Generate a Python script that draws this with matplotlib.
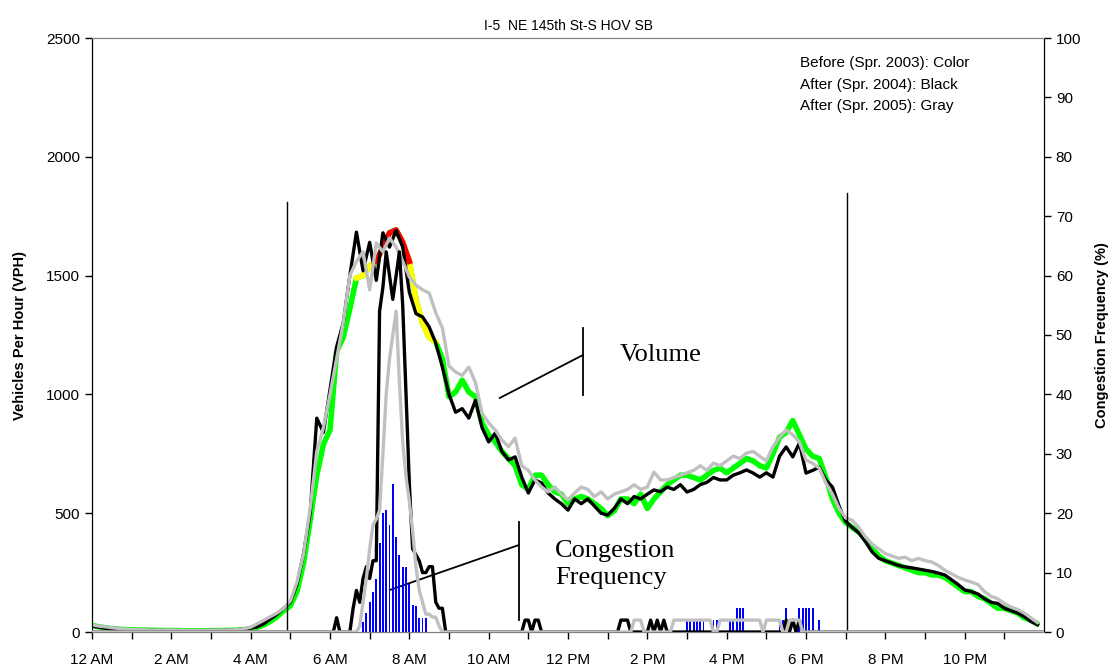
import numpy as np
import matplotlib
matplotlib.use("Agg")
import matplotlib.pyplot as plt

plt.rcParams['font.family'] = ['Liberation Sans', 'DejaVu Sans']

# ---------------- data ----------------
vol_time = np.arange(144) / 6.0  # 10-minute steps, hours

vol_2003 = [28, 22, 18, 14, 12, 10,
            9, 8, 8, 7, 7, 6,
            6, 6, 5, 5, 5, 5,
            5, 6, 6, 7, 8, 10,
            14, 20, 30, 45, 65, 90,
            110, 170, 290, 470, 660, 790,
            850, 1180, 1240, 1360, 1490, 1500,
            1540, 1560, 1620, 1680, 1692, 1640,
            1560, 1400, 1300, 1240, 1220, 1150,
            990, 1010, 1060, 1010, 990, 880,
            830, 800, 760, 730, 700, 620,
            600, 660, 660, 620, 590, 580,
            540, 560, 570, 560, 540, 520,
            490, 510, 560, 560, 540, 580,
            520, 560, 590, 620, 640, 660,
            660, 650, 640, 660, 680, 690,
            670, 690, 710, 730, 720, 700,
            690, 750, 820, 840, 890, 830,
            770, 740, 730, 650, 560, 500,
            460, 440, 420, 390, 350, 320,
            300, 290, 280, 270, 260, 250,
            250, 240, 240, 230, 210, 190,
            170, 170, 150, 140, 120, 100,
            100, 90, 80, 60, 50, 35]

# condition code of the 2003 line: g = green, y = yellow, r = red
status_2003 = ('g' * 41 + 'y' * 3 + 'r' * 4 + 'y' * 4 + 'g' * 92)

vol_2004 = [25, 20, 16, 13, 11, 10,
            8, 8, 7, 7, 6, 6,
            6, 5, 5, 5, 5, 6,
            6, 6, 7, 8, 10, 12,
            16, 22, 35, 55, 75, 100,
            125, 200, 330, 500, 900, 840,
            1020, 1200, 1300, 1500, 1683, 1520,
            1640, 1480, 1680, 1620, 1690, 1620,
            1430, 1340, 1326, 1284, 1216, 1115,
            1000, 925, 940, 900, 975, 860,
            800, 837, 760, 724, 737, 652,
            585, 640, 627, 585, 560, 540,
            513, 560, 540, 560, 530, 500,
            492, 520, 560, 540, 570, 560,
            580, 598, 590, 610, 600, 620,
            589, 600, 620, 630, 650, 640,
            640, 660, 670, 682, 669, 652,
            670, 652, 740, 779, 737, 795,
            669, 680, 694, 640, 610, 530,
            465, 440, 417, 380, 337, 310,
            300, 290, 280, 274, 270, 265,
            260, 255, 248, 240, 220, 200,
            177, 170, 160, 140, 125, 120,
            100, 90, 80, 65, 45, 30]

vol_2005 = [30, 25, 22, 18, 15, 12,
            10, 10, 9, 8, 8, 8,
            8, 7, 7, 7, 7, 7,
            7, 8, 8, 9, 10, 14,
            20, 35, 50, 65, 80, 100,
            130, 210, 330, 520, 760, 860,
            1000, 1150, 1300, 1500, 1560, 1600,
            1440, 1637, 1600, 1658, 1620, 1560,
            1494, 1460, 1440, 1427, 1343, 1280,
            1120, 1094, 1080, 1115, 1050, 921,
            880, 850, 808, 780, 816, 700,
            680, 640, 610, 590, 610, 580,
            556, 585, 610, 600, 570, 590,
            560, 580, 590, 600, 620, 600,
            610, 673, 640, 640, 650, 660,
            670, 680, 700, 680, 711, 700,
            720, 740, 730, 753, 760, 740,
            720, 780, 820, 850, 830, 800,
            724, 710, 690, 627, 580, 520,
            480, 470, 440, 400, 370, 350,
            330, 320, 310, 315, 300, 310,
            300, 295, 280, 260, 245, 230,
            219, 210, 200, 170, 150, 140,
            120, 105, 95, 80, 60, 40]

# congestion frequency 2003 (blue bars, 5-minute bins)
cf2003_time = [6.833, 6.917, 7.0, 7.083, 7.167, 7.25, 7.333, 7.417, 7.5, 7.583,
               7.667, 7.75, 7.833, 7.917, 8.0, 8.083, 8.167, 8.25, 8.333, 8.417,
               15.0, 15.083, 15.167, 15.25, 15.333, 15.417,
               15.667, 15.75,
               16.083, 16.167, 16.25, 16.333, 16.417,
               17.333, 17.417, 17.5,
               17.833, 17.917, 18.0, 18.083, 18.167, 18.333]
cf2003_pct = [1.7, 3.2, 5, 6.7, 9, 15, 20, 20.5, 18, 25,
              16, 13, 11, 11, 8, 4.5, 4.4, 2.3, 2.3, 2.3,
              2, 2, 2, 2, 2, 2,
              2, 2,
              2, 2, 4, 4, 4,
              2, 2, 4,
              4, 4, 4, 4, 4, 2]

# congestion frequency 2004 (black line)
cf2004_time = [0, 6.083, 6.167, 6.25, 6.5, 6.583, 6.667, 6.75, 6.833, 6.917, 7.0,
               7.083, 7.167, 7.25, 7.333, 7.417, 7.5, 7.583, 7.667, 7.75, 7.833,
               7.917, 8.0, 8.083, 8.167, 8.25, 8.333, 8.417, 8.5, 8.583, 8.667,
               8.75, 8.833, 8.917,
               10.833, 10.917, 11.0, 11.083, 11.167, 11.25, 11.333,
               13.25, 13.333, 13.5, 13.583,
               14.0, 14.083, 14.167, 14.25, 14.333, 14.417, 14.5,
               17.417, 17.5, 17.583, 17.667, 17.75, 17.833, 17.917, 24]
cf2004_pct = [0, 0, 2.4, 0, 0, 4, 7, 5, 9, 11, 9,
              12, 12, 54, 58, 64, 60, 56, 60, 64, 55,
              40, 25, 14, 13, 12, 10, 10, 11, 11, 5,
              4, 4, 0,
              0, 2, 2, 0, 2, 2, 0,
              0, 2, 2, 0,
              0, 2, 0, 2, 0, 2, 0,
              0, 2, 0, 2, 0, 2, 0, 0]

# congestion frequency 2005 (gray line)
cf2005_time = [0, 6.667, 6.75, 6.833, 6.917, 7.0, 7.083, 7.167, 7.25, 7.333,
               7.417, 7.5, 7.583, 7.667, 7.75, 7.833, 7.917, 8.0, 8.083, 8.167,
               8.25, 8.333, 8.417, 8.5, 8.583, 8.667, 8.75, 8.833,
               13.583, 13.667, 13.833, 13.917,
               14.583, 14.667, 15.583, 15.667,
               15.75, 15.833, 16.833, 16.917, 17.0, 17.333, 17.417,
               17.5, 17.583, 17.833, 17.917, 24]
cf2005_pct = [0, 0, 1, 5, 9, 14, 18, 19, 20.5, 30,
              40, 46, 50, 54, 42, 32, 26, 22, 17, 11,
              7, 5, 3, 3, 2.5, 2.5, 1, 0,
              0, 2, 2, 0,
              0, 2, 2, 0,
              0, 2, 2, 0, 2, 2, 0,
              0, 2, 2, 0, 0]

x_tick_hours = list(range(0, 24))
x_tick_labels = ['12 AM', '', '2 AM', '', '4 AM', '', '6 AM', '', '8 AM', '',
                 '10 AM', '', '12 PM', '', '2 PM', '', '4 PM', '', '6 PM', '',
                 '8 PM', '', '10 PM', '']

legend_lines = ['Before (Spr. 2003): Color', 'After (Spr. 2004): Black',
                'After (Spr. 2005): Gray']

# ---------------- figure ----------------
W, H = 1115, 668
fig = plt.figure(figsize=(W / 100, H / 100), dpi=100)
ax = fig.add_axes([92 / W, 36 / H, (1044 - 92) / W, (632 - 38) / H])

vol_2003 = np.array(vol_2003, dtype=float)
colors_2003 = {'g': '#00ff00', 'y': '#ffff00', 'r': '#ff0000'}

lw_col = 4.0
lw_bw = 2.4

ax.plot(vol_time, vol_2003, color=colors_2003['g'], lw=lw_col, zorder=2,
        solid_joinstyle='round', solid_capstyle='round')
for code in ['y', 'r']:
    idx = [i for i, s in enumerate(status_2003) if s == code]
    runs = []
    start = idx[0]
    prev = idx[0]
    for i in idx[1:]:
        if i != prev + 1:
            runs.append((start, prev))
            start = i
        prev = i
    runs.append((start, prev))
    for a, b in runs:
        a0 = max(a - 1, 0)
        b0 = min(b + 1, len(vol_time) - 1)
        ax.plot(vol_time[a0:b0 + 1], vol_2003[a0:b0 + 1], color=colors_2003[code],
                lw=lw_col, zorder=2.1, solid_joinstyle='round')

ax.plot(vol_time, vol_2004, color='black', lw=lw_bw, zorder=3, solid_joinstyle='round')
ax.plot(vol_time, vol_2005, color='#c0c0c0', lw=lw_bw, zorder=4, solid_joinstyle='round')

# vertical period lines
ax.plot([4.92, 4.92], [0, 1810], color='black', lw=1.0, zorder=5)
ax.plot([19.03, 19.03], [0, 1848], color='black', lw=1.0, zorder=5)

# callouts
ax.plot([12.38, 12.38], [997, 1280], color='black', lw=1.3, zorder=5)
ax.plot([10.28, 12.38], [985, 1166], color='black', lw=1.3, zorder=5)
ax.text(13.31, 1166, 'Volume', family=['Liberation Serif', 'DejaVu Serif'],
        fontsize=19, ha='left', va='center')

ax.plot([10.76, 10.76], [50, 463], color='black', lw=1.3, zorder=5)
ax.plot([7.51, 10.76], [177, 366], color='black', lw=1.3, zorder=5)
ax.text(11.67, 284, 'Congestion\nFrequency', family=['Liberation Serif', 'DejaVu Serif'],
        fontsize=19, ha='left', va='center', linespacing=1.35)

ax.set_xlim(0, 24)
ax.set_ylim(0, 2500)
ax.set_yticks([0, 500, 1000, 1500, 2000, 2500])
ax.set_xticks(x_tick_hours)
ax.set_xticklabels(x_tick_labels)
ax.tick_params(axis='both', direction='out', labelsize=11, length=5, width=1)
ax.tick_params(axis='x', pad=10)
ax.set_ylabel('Vehicles Per Hour (VPH)', fontsize=10.5, fontweight='bold', labelpad=14)
ax.set_title('I-5  NE 145th St-S HOV SB', fontsize=10, pad=6)

# right axis: congestion frequency
ax2 = ax.twinx()
ax2.set_ylim(0, 100)
ax2.set_yticks(range(0, 101, 10))
ax2.tick_params(axis='y', direction='out', labelsize=11, length=5, width=1)
ax2.set_ylabel('Congestion Frequency (%)', fontsize=10.5, fontweight='bold', labelpad=10)

ax2.bar(cf2003_time, cf2003_pct, width=0.048, color='#0000ff', align='center', zorder=2)
ax2.plot(cf2004_time, cf2004_pct, color='black', lw=lw_bw, zorder=3, solid_joinstyle='round')
ax2.plot(cf2005_time, cf2005_pct, color='#c0c0c0', lw=lw_bw, zorder=4, solid_joinstyle='round')

for a in (ax, ax2):
    a.spines['top'].set_color('#808080')
    a.spines['bottom'].set_color('#808080')
    a.spines['left'].set_color('black')
    a.spines['right'].set_color('black')
    a.set_xlim(0, 24)

ax2.text((800 - 92) / (1044 - 92), (632 - 63) / 594, legend_lines[0], transform=ax2.transAxes,
         fontsize=11, ha='left', va='center')
ax2.text((800 - 92) / (1044 - 92), (632 - 85) / 594, legend_lines[1], transform=ax2.transAxes,
         fontsize=11, ha='left', va='center')
ax2.text((800 - 92) / (1044 - 92), (632 - 106) / 594, legend_lines[2], transform=ax2.transAxes,
         fontsize=11, ha='left', va='center')

fig.savefig('out.png', dpi=100)
